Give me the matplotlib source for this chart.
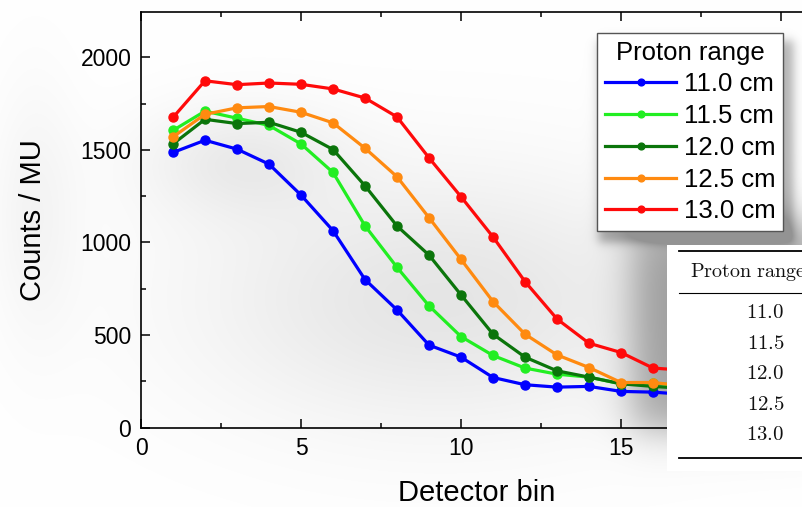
import numpy as np
import matplotlib
matplotlib.use("Agg")
import matplotlib.pyplot as plt

# Counts per monitor unit for each detector bin, one series per proton range
bins = [1, 2, 3, 4, 5, 6, 7, 8, 9, 10, 11, 12, 13, 14, 15, 16, 17]
counts_110 = [1486, 1552, 1504, 1423, 1256, 1064, 800, 636, 446, 381, 271, 232, 219, 223, 196, 192, 180]
counts_115 = [1605, 1709, 1671, 1632, 1532, 1378, 1090, 866, 658, 492, 390, 322, 289, 273, 237, 241, 225]
counts_120 = [1532, 1665, 1642, 1649, 1595, 1502, 1306, 1089, 932, 717, 505, 381, 307, 273, 237, 223, 212]
counts_125 = [1570, 1692, 1727, 1734, 1703, 1646, 1509, 1355, 1134, 909, 681, 505, 393, 325, 244, 244, 225]
counts_130 = [1675, 1873, 1852, 1861, 1854, 1829, 1780, 1678, 1457, 1247, 1030, 789, 587, 456, 406, 322, 310]

series_labels = ["11.0 cm", "11.5 cm", "12.0 cm", "12.5 cm", "13.0 cm"]
series_colors = ["#0000ff", "#22ee22", "#0b750b", "#ff8a10", "#ff0a0a"]

table_header = "Proton range"
table_rows = ["11.0", "11.5", "12.0", "12.5", "13.0"]

plt.rcParams["font.family"] = ["Liberation Sans", "DejaVu Sans"]
plt.rcParams["mathtext.fontset"] = "cm"

W, H = 802, 507
fig = plt.figure(figsize=(W / 100, H / 100), dpi=100)

# soft grey shading behind the plot
yy, xx = np.mgrid[0:H, 0:W].astype(float)


def soft_box(x0, x1, y0, y1, s):
    fx = 0.5 * (np.tanh((xx - x0) / s) - np.tanh((xx - x1) / s))
    fy = 0.5 * (np.tanh((yy - y0) / s) - np.tanh((yy - y1) / s))
    return fx * fy


def blob(cx, cy, sx, sy):
    return np.exp(-(((xx - cx) / sx) ** 2 + ((yy - cy) / sy) ** 2) / 2)


dark = (0.34 * soft_box(632, 830, 222, 430, 24)
        + 0.30 * soft_box(598, 793, 40, 242, 6)
        + 0.10 * blob(440, 300, 170, 90)
        + 0.07 * blob(240, 160, 70, 40)
        + 0.04 * blob(35, 210, 30, 90))
shade = np.clip(1 - np.minimum(dark, 0.42), 0, 1)
bg = np.dstack([shade, shade, shade])
fig.figimage(bg, xo=0, yo=0, origin="upper", zorder=-10)

# main axes, right edge runs past the figure border
ax_l, ax_r, ax_t, ax_b = 141, 813, 11.7, 427.7
ax = fig.add_axes([ax_l / W, 1 - ax_b / H, (ax_r - ax_l) / W, (ax_b - ax_t) / H])
ax.patch.set_alpha(0)

for vals, lab, col in zip([counts_110, counts_115, counts_120, counts_125, counts_130],
                          series_labels, series_colors):
    ax.plot(bins, vals, color=col, lw=2.3, marker="o", ms=6.5, label=lab)

ax.set_xlim(0, 21)
ax.set_ylim(0, 2246)
ax.set_xticks([0, 5, 10, 15, 20], ["0", "5", "10", "15", ""])
ax.set_xticks([2.5, 7.5, 12.5, 17.5], minor=True)
ax.set_yticks([0, 500, 1000, 1500, 2000])
ax.set_yticks([250, 750, 1250, 1750], minor=True)
ax.tick_params(which="both", direction="in", top=True, right=True, width=1.1,
               labelsize=16.5, pad=7)
ax.tick_params(which="major", length=6.5)
ax.tick_params(which="minor", length=3.5)
for sp in ax.spines.values():
    sp.set_linewidth(1.2)

ax.set_xlabel("Detector bin", fontsize=21)
ax.set_ylabel("Counts / MU", fontsize=21)
ax.xaxis.set_label_coords(0.5, (ax_b - 493) / (ax_b - ax_t))
ax.yaxis.set_label_coords((33 - ax_l) / (ax_r - ax_l), 0.5)
ax.xaxis.label.set_va("center")
ax.yaxis.label.set_va("center")

leg = ax.legend(title="Proton range", loc="upper right",
                bbox_to_anchor=((783 - ax_l) / (ax_r - ax_l), (ax_b - 33) / (ax_b - ax_t)),
                borderaxespad=0, fontsize=18.5, title_fontsize=18.5, fancybox=False,
                framealpha=1, edgecolor="#555555", handlelength=2.75,
                handletextpad=0.3, labelspacing=0.3, markerscale=0.75,
                borderpad=0.3)
leg.get_frame().set_linewidth(1.0)
leg.set_zorder(5)

# results table laid over the right side
tx0, tx1, ty0, ty1 = 667, 805, 245, 471
tax = fig.add_axes([tx0 / W, 1 - ty1 / H, (tx1 - tx0) / W, (ty1 - ty0) / H])
tax.set_zorder(10)
tax.set_xlim(tx0, tx1)
tax.set_ylim(ty1, ty0)
tax.set_facecolor("white")
for sp in tax.spines.values():
    sp.set_visible(False)
tax.set_xticks([])
tax.set_yticks([])

tax.plot([679, 805], [250.7, 250.7], color="black", lw=1.3)
tax.plot([679, 805], [292.7, 292.7], color="black", lw=0.8)
tax.plot([679, 805], [457.7, 457.7], color="black", lw=1.3)
tax.text(690, 272, r"$\mathrm{" + table_header.replace(" ", r"\ ") + "}$",
         fontsize=14.5, ha="left", va="center", color="#111111")
for i, row in enumerate(table_rows):
    tax.text(765.5, 313 + 30.4 * i, r"$\mathrm{" + row + "}$", fontsize=15,
             ha="center", va="center", color="#111111")

fig.savefig("out.png", dpi=100)
